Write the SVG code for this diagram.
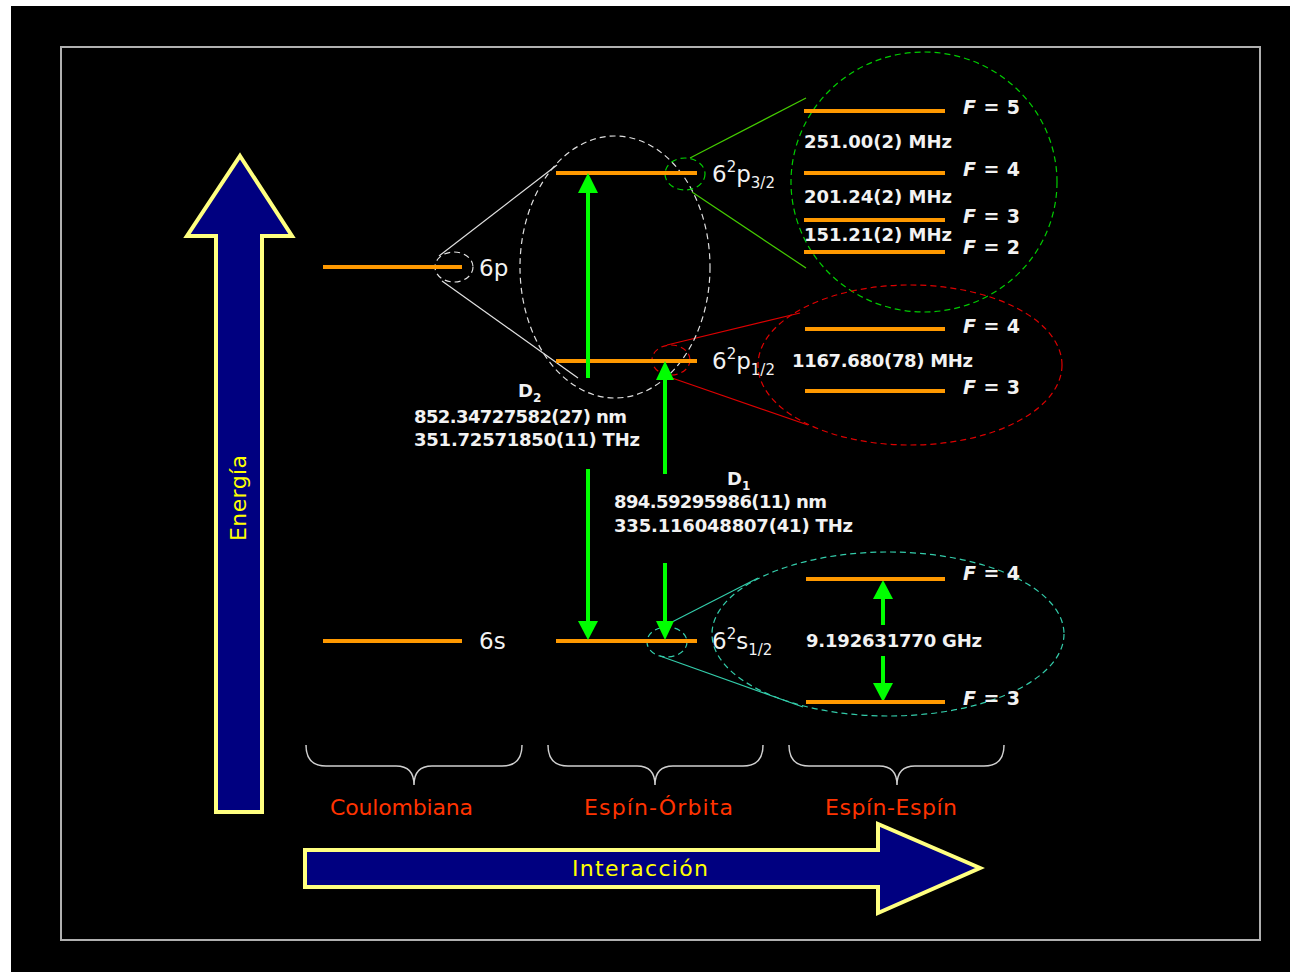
<svg xmlns="http://www.w3.org/2000/svg" width="1290" height="972" viewBox="0 0 1290 972">
<defs>
<style>
.lvl{stroke:#ff9900;stroke-width:4;fill:none}
.t{font-family:"DejaVu Sans","Liberation Sans",sans-serif;fill:#f2f2f2;font-size:23px}
.sub{font-size:15px}
.b{font-family:"DejaVu Sans","Liberation Sans",sans-serif;font-weight:bold;fill:#f2f2f2;font-size:18px}
.F{font-family:"DejaVu Sans","Liberation Sans",sans-serif;font-weight:bold;fill:#f2f2f2;font-size:19px}
.ar{stroke:#00ff00;stroke-width:4;fill:none}
.hd{fill:#00ff00}
.dw{fill:none;stroke:#e0e0e0;stroke-width:1.2;stroke-dasharray:6 4}
.dg{fill:none;stroke:#00cc00;stroke-width:1.2;stroke-dasharray:6 4}
.dr{fill:none;stroke:#dd0000;stroke-width:1.2;stroke-dasharray:6 4}
.dt{fill:none;stroke:#33ccaa;stroke-width:1.2;stroke-dasharray:6 4}
.lw{stroke:#e0e0e0;stroke-width:1.2}
.lg{stroke:#44cc00;stroke-width:1.2}
.lr{stroke:#dd0000;stroke-width:1.2}
.lt{stroke:#33ccaa;stroke-width:1.2}
.big{fill:#000080;stroke:#ffff80;stroke-width:4;stroke-linejoin:miter}
.yl{font-family:"DejaVu Sans","Liberation Sans",sans-serif;fill:#ffff00;font-size:22px}
.rd{font-family:"DejaVu Sans","Liberation Sans",sans-serif;fill:#ff3300;font-size:22px}
.brace{fill:none;stroke:#d0d0d0;stroke-width:1.5}
</style>
</defs>
<rect x="0" y="0" width="1290" height="972" fill="#ffffff"/>
<rect x="11" y="6" width="1279" height="966" fill="#000000"/>
<rect x="61" y="47" width="1199" height="893" fill="none" stroke="#b0b0b0" stroke-width="2"/>

<g id="energia-arrow">
<polygon class="big" points="240,156 292,236 262,236 262,812 216,812 216,236 187,236"/>
<text class="yl" transform="translate(246,498) rotate(-90)" text-anchor="middle" textLength="86">Energía</text>
</g>
<g id="interaccion-arrow">
<polygon class="big" points="305,850 878,850 878,824 980,868 878,913 878,887 305,887"/>
<text class="yl" x="572" y="876" textLength="136">Interacción</text>
</g>

<g id="connectors">
<line class="lw" x1="439" y1="256" x2="557" y2="165"/>
<line class="lw" x1="442" y1="281" x2="578" y2="378"/>
<line class="lg" x1="690" y1="158" x2="806" y2="98"/>
<line class="lg" x1="692" y1="192" x2="806" y2="268"/>
<line class="lr" x1="667" y1="345" x2="800" y2="313"/>
<line class="lr" x1="672" y1="378" x2="808" y2="425"/>
<line class="lt" x1="672" y1="622" x2="758" y2="578"/>
<line class="lt" x1="660" y1="656" x2="803" y2="707"/>
</g>

<g id="zoom-ellipses">
<ellipse class="dw" cx="454" cy="267" rx="19" ry="15"/>
<ellipse class="dw" cx="615" cy="267" rx="95" ry="131"/>
<ellipse class="dg" cx="685" cy="174" rx="20" ry="16"/>
<ellipse class="dg" cx="924" cy="182" rx="133" ry="130"/>
<ellipse class="dr" cx="671" cy="360" rx="19" ry="15"/>
<ellipse class="dr" cx="910" cy="365" rx="152" ry="80"/>
<ellipse class="dt" cx="667" cy="642" rx="20" ry="15"/>
<ellipse class="dt" cx="888" cy="634" rx="176" ry="82"/>
</g>

<g id="coulombiana">
<line class="lvl" x1="323" y1="267" x2="462" y2="267"/>
<text class="t" x="479" y="276">6p</text>
<line class="lvl" x1="323" y1="641" x2="462" y2="641"/>
<text class="t" x="479" y="649">6s</text>
</g>

<g id="espin-orbita">
<line class="lvl" x1="556" y1="173" x2="697" y2="173"/>
<text class="t" x="712" y="182">6<tspan class="sub" dy="-10">2</tspan><tspan dy="10">p</tspan><tspan class="sub" dy="6">3/2</tspan></text>
<line class="lvl" x1="556" y1="361" x2="697" y2="361"/>
<text class="t" x="712" y="369">6<tspan class="sub" dy="-10">2</tspan><tspan dy="10">p</tspan><tspan class="sub" dy="6">1/2</tspan></text>
<line class="lvl" x1="556" y1="641" x2="697" y2="641"/>
<text class="t" x="712" y="649">6<tspan class="sub" dy="-10">2</tspan><tspan dy="10">s</tspan><tspan class="sub" dy="6">1/2</tspan></text>
</g>

<g id="transitions">
<line class="ar" x1="588" y1="190" x2="588" y2="378"/>
<line class="ar" x1="588" y1="469" x2="588" y2="623"/>
<polygon class="hd" points="588,173 578,193 598,193"/>
<polygon class="hd" points="588,640 578,621 598,621"/>
<line class="ar" x1="665" y1="378" x2="665" y2="474"/>
<line class="ar" x1="665" y1="563" x2="665" y2="622"/>
<polygon class="hd" points="665,361 656,380 674,380"/>
<polygon class="hd" points="665,640 656,621 674,621"/>
<line class="ar" x1="883" y1="597" x2="883" y2="625"/>
<line class="ar" x1="883" y1="656" x2="883" y2="685"/>
<polygon class="hd" points="883,580 873,599 893,599"/>
<polygon class="hd" points="883,702 873,683 893,683"/>
</g>

<g id="d2-label">
<text class="b" x="518" y="397">D<tspan font-size="12" dy="5">2</tspan></text>
<text class="b" x="414" y="423" textLength="213">852.34727582(27) nm</text>
<text class="b" x="414" y="446" textLength="226">351.72571850(11) THz</text>
</g>
<g id="d1-label">
<text class="b" x="727" y="485">D<tspan font-size="12" dy="5">1</tspan></text>
<text class="b" x="614" y="508" textLength="213">894.59295986(11) nm</text>
<text class="b" x="614" y="532" textLength="239">335.116048807(41) THz</text>
</g>

<g id="hf-p32">
<line class="lvl" x1="804" y1="111" x2="945" y2="111"/>
<line class="lvl" x1="804" y1="173" x2="945" y2="173"/>
<line class="lvl" x1="804" y1="220" x2="945" y2="220"/>
<line class="lvl" x1="804" y1="252" x2="945" y2="252"/>
<text class="b" x="804" y="148" textLength="148">251.00(2) MHz</text>
<text class="b" x="804" y="203" textLength="148">201.24(2) MHz</text>
<text class="b" x="804" y="241" textLength="148">151.21(2) MHz</text>
<text class="F" x="963" y="114" textLength="57"><tspan font-style="italic">F</tspan> = 5</text>
<text class="F" x="963" y="176" textLength="57"><tspan font-style="italic">F</tspan> = 4</text>
<text class="F" x="963" y="223" textLength="57"><tspan font-style="italic">F</tspan> = 3</text>
<text class="F" x="963" y="254" textLength="57"><tspan font-style="italic">F</tspan> = 2</text>
</g>

<g id="hf-p12">
<line class="lvl" x1="805" y1="329" x2="945" y2="329"/>
<line class="lvl" x1="805" y1="391" x2="945" y2="391"/>
<text class="b" x="792" y="367" textLength="181">1167.680(78) MHz</text>
<text class="F" x="963" y="333" textLength="57"><tspan font-style="italic">F</tspan> = 4</text>
<text class="F" x="963" y="394" textLength="57"><tspan font-style="italic">F</tspan> = 3</text>
</g>

<g id="hf-s12">
<line class="lvl" x1="806" y1="579" x2="945" y2="579"/>
<line class="lvl" x1="806" y1="702" x2="945" y2="702"/>
<text class="b" x="806" y="647" textLength="176">9.192631770 GHz</text>
<text class="F" x="963" y="580" textLength="57"><tspan font-style="italic">F</tspan> = 4</text>
<text class="F" x="963" y="705" textLength="57"><tspan font-style="italic">F</tspan> = 3</text>
</g>

<g id="categories">
<path class="brace" d="M306,745 Q306,766 326,766 L396,766 Q414,766 414,785 Q414,766 432,766 L502,766 Q522,766 522,745"/>
<path class="brace" d="M548,745 Q548,766 568,766 L637,766 Q655,766 655,785 Q655,766 673,766 L743,766 Q763,766 763,745"/>
<path class="brace" d="M789,745 Q789,766 809,766 L879,766 Q897,766 897,785 Q897,766 915,766 L984,766 Q1004,766 1004,745"/>
<text class="rd" x="330" y="815" textLength="143">Coulombiana</text>
<text class="rd" x="584" y="815" textLength="149">Espín-Órbita</text>
<text class="rd" x="825" y="815" textLength="132">Espín-Espín</text>
</g>
</svg>
